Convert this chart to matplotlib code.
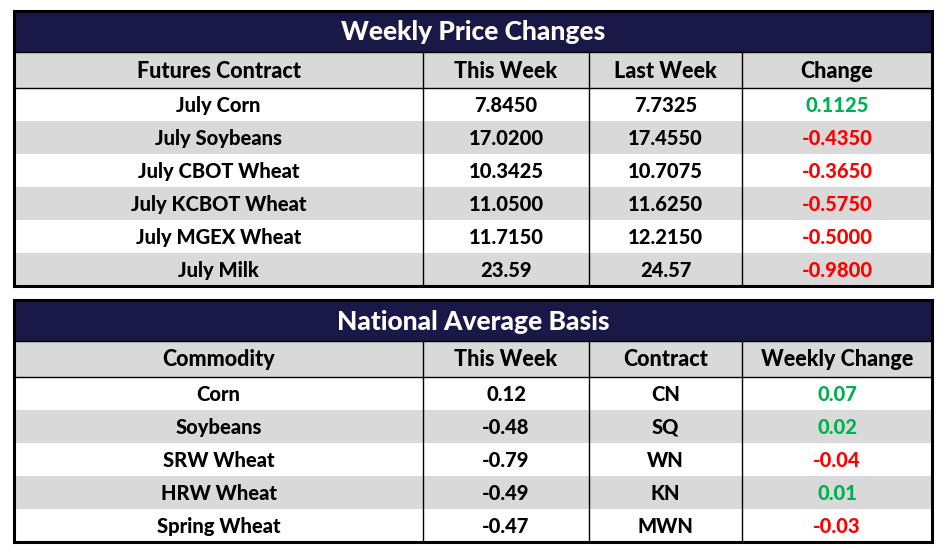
import matplotlib
matplotlib.use("Agg")
import matplotlib.pyplot as plt
from matplotlib.patches import Rectangle

# ---- Data ----
t1_title = "Weekly Price Changes"
t1_headers = ["Futures Contract", "This Week", "Last Week", "Change"]
t1_contracts = ["July Corn", "July Soybeans", "July CBOT Wheat", "July KCBOT Wheat",
                "July MGEX Wheat", "July Milk"]
t1_this_week = ["7.8450", "17.0200", "10.3425", "11.0500", "11.7150", "23.59"]
t1_last_week = ["7.7325", "17.4550", "10.7075", "11.6250", "12.2150", "24.57"]
t1_change = ["0.1125", "-0.4350", "-0.3650", "-0.5750", "-0.5000", "-0.9800"]

t2_title = "National Average Basis"
t2_headers = ["Commodity", "This Week", "Contract", "Weekly Change"]
t2_commodity = ["Corn", "Soybeans", "SRW Wheat", "HRW Wheat", "Spring Wheat"]
t2_this_week = ["0.12", "-0.48", "-0.79", "-0.49", "-0.47"]
t2_contract = ["CN", "SQ", "WN", "KN", "MWN"]
t2_change = ["0.07", "0.02", "-0.04", "0.01", "-0.03"]

# ---- Style ----
NAVY = "#1a1846"
GRAY = "#d9d9d9"
GREEN = "#00b050"
RED = "#ff0000"
FONT = ["Lato", "DejaVu Sans"]
WEIGHT = 900

W, H = 946, 552
fig = plt.figure(figsize=(W / 100, H / 100), dpi=100)
ax = fig.add_axes([0, 0, 1, 1])
ax.set_xlim(0, W)
ax.set_ylim(H, 0)
ax.axis("off")

col_x = [14, 423, 589, 742, 932]


def draw_table(top, title, headers, cols, change_col, title_h=41, head_h=36, row_h=33):
    left, right = col_x[0], col_x[-1]
    nrows = len(cols[0])
    # title band
    ax.add_patch(Rectangle((left, top), right - left, title_h, facecolor=NAVY, edgecolor="none"))
    ax.text((left + right) / 2, top + title_h / 2 + 1, title, color="white", fontsize=19,
            fontweight=WEIGHT, family=FONT, ha="center", va="center")
    # header
    y = top + title_h
    ax.add_patch(Rectangle((left, y), right - left, head_h, facecolor=GRAY, edgecolor="none"))
    for i, h in enumerate(headers):
        ax.text((col_x[i] + col_x[i + 1]) / 2, y + head_h / 2 + 1, h, color="black", fontsize=15.5,
                fontweight=WEIGHT, family=FONT, ha="center", va="center")
    ax.plot([left, right], [y, y], color="black", lw=1)
    y += head_h
    ax.plot([left, right], [y, y], color="black", lw=1)
    body_top = top + title_h
    for r in range(nrows):
        ry = y + r * row_h
        if r % 2 == 1:
            ax.add_patch(Rectangle((left, ry), right - left, row_h, facecolor=GRAY, edgecolor="none"))
        for c in range(4):
            val = cols[c][r]
            color = "black"
            if c == change_col:
                color = GREEN if not val.startswith("-") else RED
            ax.text((col_x[c] + col_x[c + 1]) / 2, ry + row_h / 2 + 1, val, color=color,
                    fontsize=14.5, fontweight=WEIGHT, family=FONT, ha="center", va="center")
    bottom = y + nrows * row_h
    for cx in col_x[1:-1]:
        ax.plot([cx, cx], [body_top, bottom], color="black", lw=1)
    ax.add_patch(Rectangle((left, top), right - left, bottom - top, facecolor="none",
                           edgecolor="black", lw=2.2))


draw_table(11, t1_title, t1_headers,
           [t1_contracts, t1_this_week, t1_last_week, t1_change], 3)
draw_table(300, t2_title, t2_headers,
           [t2_commodity, t2_this_week, t2_contract, t2_change], 3)

fig.savefig("out.png", dpi=100, facecolor="white")
